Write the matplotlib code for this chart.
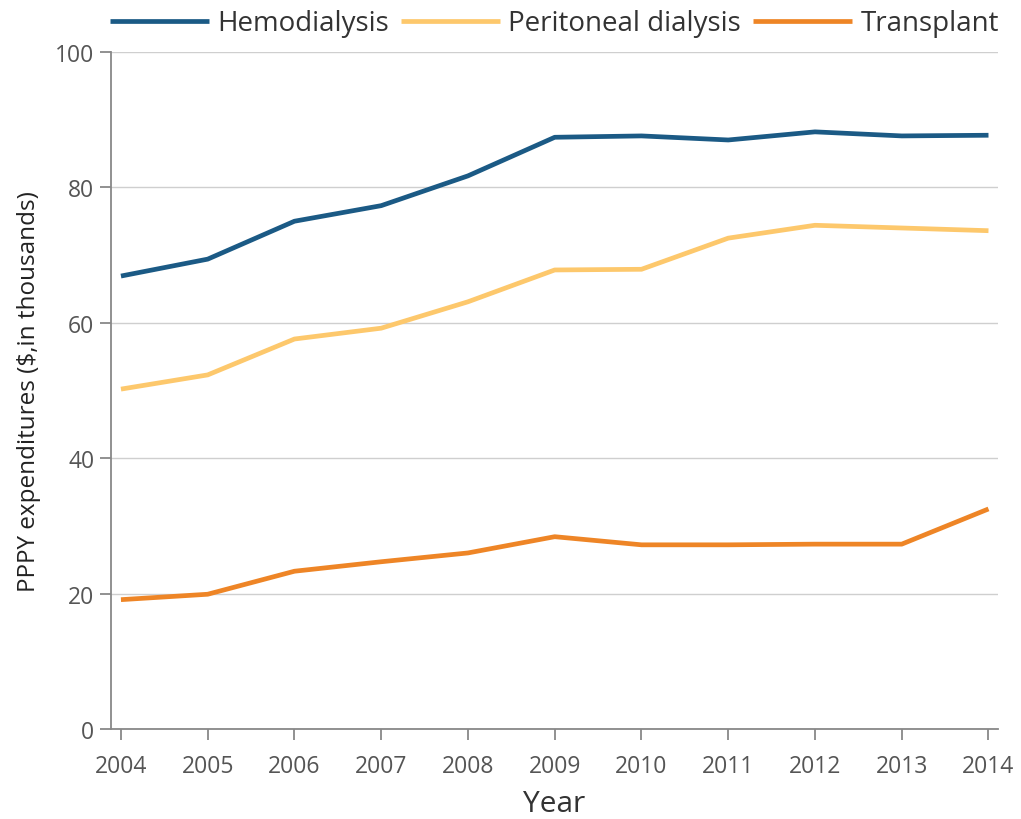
import matplotlib
matplotlib.use("Agg")
import matplotlib.pyplot as plt

years = [2004, 2005, 2006, 2007, 2008, 2009, 2010, 2011, 2012, 2013, 2014]
hemodialysis = [66.9, 69.4, 75.0, 77.3, 81.7, 87.4, 87.6, 87.0, 88.2, 87.6, 87.7]
peritoneal = [50.2, 52.3, 57.6, 59.2, 63.1, 67.8, 67.9, 72.5, 74.4, 74.0, 73.6]
transplant = [19.1, 19.9, 23.3, 24.7, 26.0, 28.4, 27.2, 27.2, 27.3, 27.3, 32.5]
yticks = [0, 20, 40, 60, 80, 100]

plt.rcParams['font.family'] = ['Open Sans', 'DejaVu Sans']

fig = plt.figure(figsize=(10.21, 8.2), dpi=100)
ax = fig.add_axes([0.1087, 0.1098, 0.8688, 0.8256])

ax.plot(years, hemodialysis, color='#1b5a85', lw=3.4, label='Hemodialysis', solid_capstyle='butt')
ax.plot(years, peritoneal, color='#fdc86c', lw=3.4, label='Peritoneal dialysis', solid_capstyle='butt')
ax.plot(years, transplant, color='#ee8526', lw=3.4, label='Transplant', solid_capstyle='butt')

ax.set_xlim(2003.885, 2014.11)
ax.set_ylim(0, 100)
ax.set_yticks(yticks)
ax.set_xticks(years)
ax.grid(axis='y', color='#cfcfcf', lw=1)
ax.set_axisbelow(True)
for s in ['top', 'right']:
    ax.spines[s].set_visible(False)
for s in ['left', 'bottom']:
    ax.spines[s].set_color('#888888')
    ax.spines[s].set_linewidth(1.3)
ax.tick_params(axis='both', colors='#888888', length=8, width=1.3, labelsize=16.5, labelcolor='#555555')
ax.tick_params(axis='x', pad=10)
ax.tick_params(axis='y', pad=4)
ax.set_xlabel('Year', fontsize=21.5, color='#333333', labelpad=8)
ax.set_ylabel('PPPY expenditures ($,in thousands)', fontsize=17.5, color='#222222', labelpad=10)

leg = fig.legend(loc='upper center', bbox_to_anchor=(0.543, 1.018), ncol=3, frameon=False,
                 fontsize=20, handlelength=3.55, handletextpad=0.3, columnspacing=0.45)
for t in leg.get_texts():
    t.set_color('#333333')

fig.savefig('out.png', dpi=100)
